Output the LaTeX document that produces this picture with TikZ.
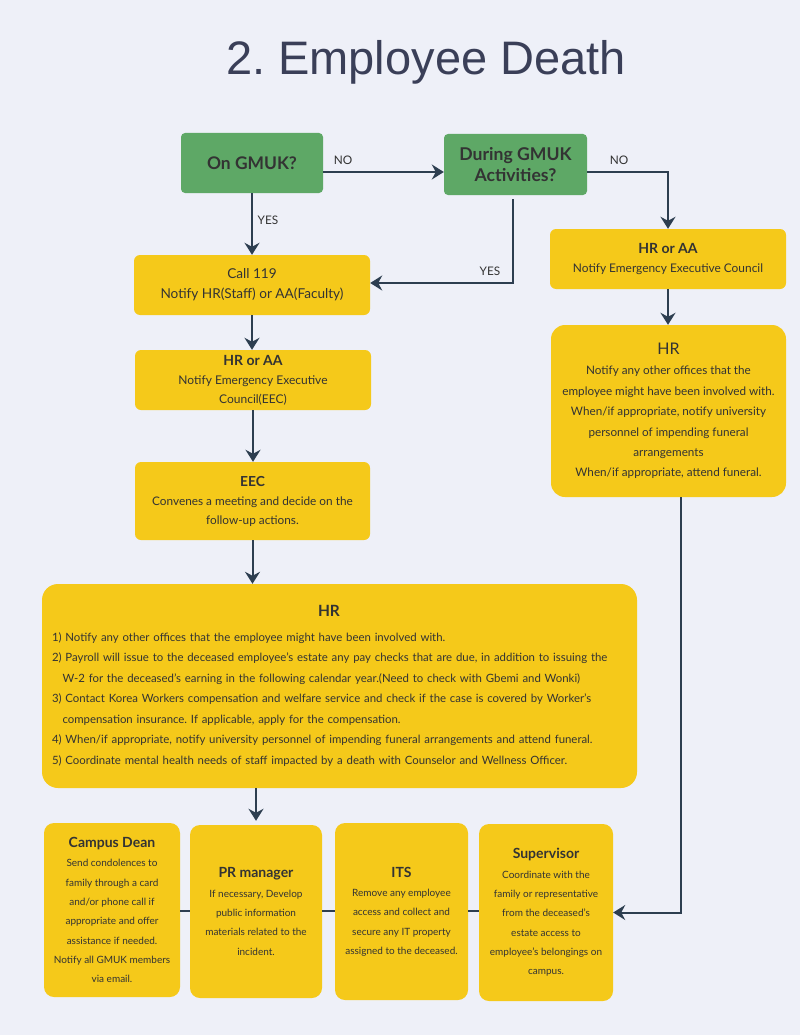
\documentclass[tikz,border=0pt]{standalone}
\usepackage{fontspec}
\setmainfont{Lato}
\newfontfamily\titlefont{Liberation Sans}
\usetikzlibrary{arrows.meta}
\frenchspacing
\definecolor{bgc}{HTML}{EEF0F8}
\definecolor{yboxc}{HTML}{F5C91A}
\definecolor{gboxc}{HTML}{5EA866}
\definecolor{arrc}{HTML}{2D3E50}
\definecolor{txtc}{HTML}{333333}
\definecolor{titlec}{HTML}{3A3F58}
\newcommand{\fs}[2]{\fontsize{#1}{#2}\selectfont}
\begin{document}
\begin{tikzpicture}[x=1pt,y=-1pt,
  ybox/.style={fill=yboxc, rounded corners=6, text=txtc, align=center, inner sep=0},
  gbox/.style={fill=gboxc, rounded corners=4, text=txtc, align=center, inner sep=0},
  conn/.style={draw=arrc, line width=2, -{Stealth[length=12,width=15,inset=4]}},
  plain/.style={draw=arrc, line width=2},
  lab/.style={font=\fs{11.8}{13}, text=txtc}
]
\fill[bgc] (0,0) rectangle (800,1035);
\useasboundingbox (0,0) rectangle (800,1035);

\node[text=titlec, font=\titlefont\fs{47}{55}] (title) at (426,62) {2. Employee Death};

\node[gbox, minimum width=142, minimum height=60, font=\bfseries\fs{17.4}{21}] (q1) at (252,163) {On GMUK?};
\node[gbox, minimum width=143, minimum height=61, font=\bfseries\fs{17.6}{21}] (q2) at (515.5,164.5) {During GMUK\\Activities?};

\node[ybox, minimum width=236, minimum height=60, font=\fs{13.6}{20}] (call) at (252,285) {Call 119\\Notify HR(Staff) or AA(Faculty)};

\node[ybox, minimum width=236, minimum height=60, font=\fs{11.9}{19}] (hraaR) at (668,259) {{\bfseries\fs{14}{19}HR or AA}\\Notify Emergency Executive Council};

\node[ybox, rounded corners=14, minimum width=235, minimum height=172, font=\fs{11.7}{20.4}] (hrR) at (668.5,411) {{\fs{16}{20.4}HR}\\Notify any other offices that the\\employee might have been involved with.\\When/if appropriate, notify university\\personnel of impending funeral\\arrangements\\When/if appropriate, attend funeral.};

\node[ybox, minimum width=236, minimum height=60, font=\fs{12}{19}] (hraaL) at (253,380) {{\bfseries\fs{14}{19}HR or AA}\\Notify Emergency Executive\\Council(EEC)};

\node[ybox, minimum width=235, minimum height=78, font=\fs{11.8}{19}] (eec) at (252.5,501) {{\bfseries\fs{13.8}{19}EEC}\\Convenes a meeting and decide on the\\follow-up actions.};

\node[ybox, rounded corners=16, minimum width=595, minimum height=204, text width=575, align=left, font=\fs{11.4}{20.5}] (hrbig) at (339.5,686) {\vspace*{4pt}\noindent\makebox[554pt][c]{\bfseries\fs{15.5}{21}HR}\par
\raggedright 1) Notify any other offices that the employee might have been involved with.\\
2) Payroll will issue to the deceased employee's estate any pay checks that are due, in addition to issuing the\\
\hspace*{10.5pt}W-2 for the deceased's earning in the following calendar year.(Need to check with Gbemi and Wonki)\\
3) Contact Korea Workers compensation and welfare service and check if the case is covered by Worker's\\
\hspace*{10.5pt}compensation insurance. If applicable, apply for the compensation.\\
4) When/if appropriate, notify university personnel of impending funeral arrangements and attend funeral.\\
5) Coordinate mental health needs of staff impacted by a death with Counselor and Wellness Officer.\par};

\node[ybox, rounded corners=10, minimum width=136, minimum height=174, font=\fs{10}{19.3}] (dean) at (112,910) {{\bfseries\fs{14}{19.3}Campus Dean}\\Send condolences to\\family through a card\\and/or phone call if\\appropriate and offer\\assistance if needed.\\Notify all GMUK members\\via email.};

\node[ybox, rounded corners=10, minimum width=132, minimum height=173, font=\fs{10}{19.3}] (pr) at (256,911.5) {{\bfseries\fs{14}{19.3}PR manager}\\If necessary, Develop\\public information\\materials related to the\\incident.};

\node[ybox, rounded corners=10, minimum width=133, minimum height=177, font=\fs{10}{19.3}] (its) at (401.5,911.5) {{\bfseries\fs{14}{19.3}ITS}\\Remove any employee\\access and collect and\\secure any IT property\\assigned to the deceased.};

\node[ybox, rounded corners=10, minimum width=134, minimum height=177, font=\fs{10}{19.3}] (sup) at (546,912.5) {{\bfseries\fs{14}{19.3}Supervisor}\\Coordinate with the\\family or representative\\from the deceased's\\estate access to\\employee's belongings on\\campus.};

% connectors
\draw[conn] ([yshift=-9pt]q1.east) -- ([yshift=-7.5pt]q2.west);
\node[lab] (lno1) at (343,160) {NO};
\draw[conn] (q1.south) -- (call.north);
\node[lab] (lyes1) at (268,220) {YES};
\draw[conn] ([xshift=-2.5pt,yshift=-4pt]q2.south) |- ([yshift=2pt]call.east);
\node[lab] (lyes2) at (490,271) {YES};
\draw[conn] ([yshift=-7.5pt]q2.east) -| (hraaR.north);
\node[lab] (lno2) at (619,160) {NO};
\draw[conn] (hraaR.south) -- (hraaR.south |- hrR.north);
\draw[conn] ([xshift=12.5pt]hrR.south) |- (sup.east);
\draw[conn] (call.south) -- (call.south |- hraaL.north);
\draw[conn] (hraaL.south) -- (hraaL.south |- eec.north);
\draw[conn] (eec.south) -- (eec.south |- hrbig.north);
\draw[conn] (hrbig.south -| pr.north) -- ([yshift=4pt]pr.north);
\draw[plain] (dean.east |- 0,911) -- (pr.west |- 0,911);
\draw[plain] (pr.east |- 0,911) -- (its.west |- 0,911);
\draw[plain] (its.east |- 0,911) -- (sup.west |- 0,911);
\end{tikzpicture}
\end{document}
